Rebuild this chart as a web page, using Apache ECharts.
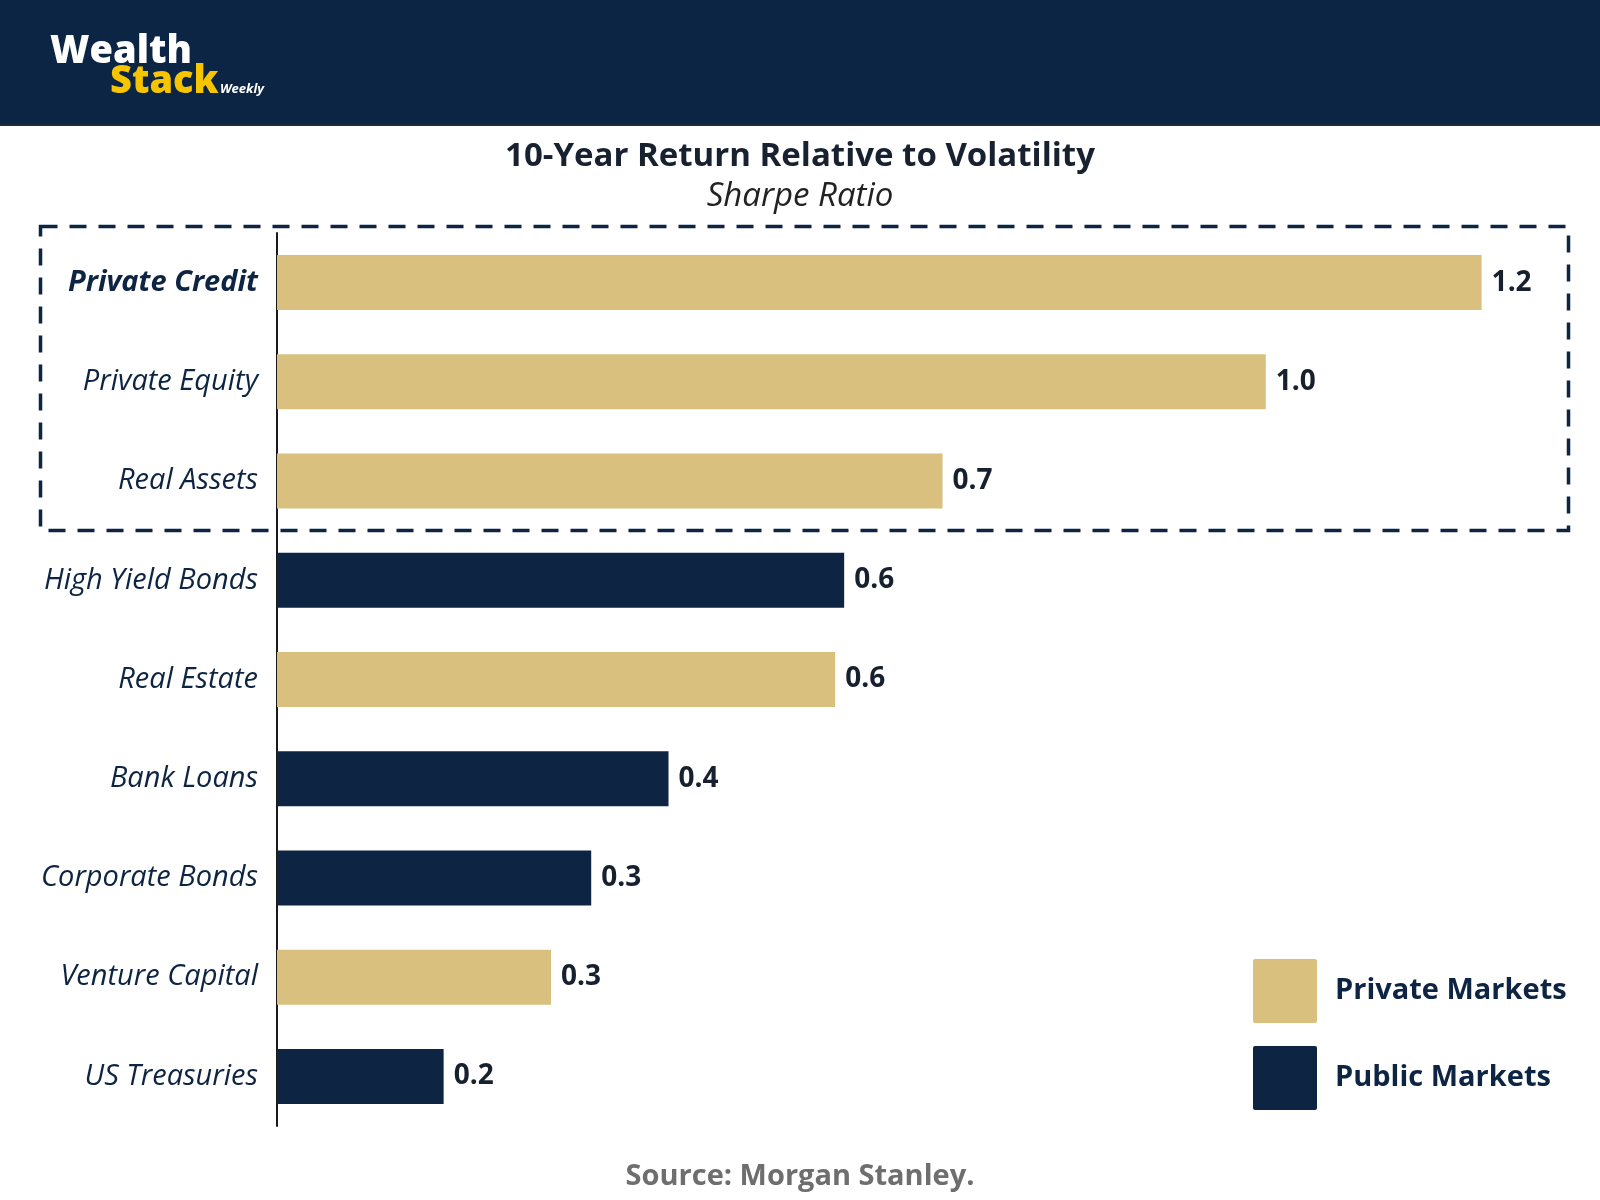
<!DOCTYPE html>
<html>
<head>
<meta charset="utf-8">
<script src="https://cdn.jsdelivr.net/npm/echarts@6/dist/echarts.min.js"></script>
<style>
html,body{margin:0;padding:0;background:#fff;}
#chart{width:1600px;height:1200px;}
</style>
</head>
<body>
<div id="chart"></div>
<script>
const categories = ['Private Credit','Private Equity','Real Assets','High Yield Bonds','Real Estate','Bank Loans','Corporate Bonds','Venture Capital','US Treasuries'];
const sharpeRatio = [1.2, 0.985, 0.663, 0.565, 0.556, 0.39, 0.313, 0.273, 0.166];
const marketType = ['Private','Private','Private','Public','Private','Public','Public','Private','Public'];
const seriesNames = ['Private Markets','Public Markets'];

const NAVY = '#0d2442';
const GOLD = '#d9c07f';
const FONT = 'Open Sans';

const privateData = sharpeRatio.map((v,i)=> marketType[i]==='Private' ? v : '-');
const publicData = sharpeRatio.map((v,i)=> marketType[i]==='Public' ? v : '-');

const chart = echarts.init(document.getElementById('chart'), null, {renderer:'canvas'});

const labelCfg = {
  show: true,
  position: 'right',
  distance: 10,
  formatter: p => Number(p.value).toFixed(1),
  fontFamily: FONT,
  fontSize: 28,
  fontWeight: 'bold',
  color: '#16202e',
  padding: [8,0,0,0]
};

chart.setOption({
  backgroundColor: '#ffffff',
  animation: false,
  textStyle: {fontFamily: FONT},
  title: [
    {text: '10-Year Return Relative to Volatility', left: 'center', top: 135,
     textStyle: {fontFamily: FONT, fontSize: 33, fontWeight: 'bold', color: '#17212f'}},
    {text: 'Sharpe Ratio', left: 'center', top: 175,
     textStyle: {fontFamily: FONT, fontSize: 33, fontWeight: 'normal', fontStyle: 'italic', color: '#222'}},
    {text: 'Source: Morgan Stanley.', left: 'center', top: 1157,
     textStyle: {fontFamily: FONT, fontSize: 29, fontWeight: 'bold', color: '#6e6e6e'}}
  ],
  graphic: [
    {type: 'rect', left: 0, top: 0, z: -1, shape: {width: 1600, height: 125}, style: {fill: '#0c2544'}},
    {type: 'rect', left: 0, top: 124, z: -1, shape: {width: 1600, height: 2}, style: {fill: '#1c2b3d'}},
    {type: 'text', x: 50, y: 52, style: {text: 'Wealth', fill: '#ffffff', fontFamily: FONT, fontSize: 38, fontWeight: 800, verticalAlign: 'middle'}},
    {type: 'text', x: 110, y: 82, style: {text: 'Stack', fill: '#f6c500', fontFamily: FONT, fontSize: 38, fontWeight: 800, verticalAlign: 'middle'}},
    {type: 'text', x: 220, y: 89, style: {text: 'Weekly', fill: '#ffffff', fontFamily: FONT, fontSize: 13, fontWeight: 'bold', fontStyle: 'italic', verticalAlign: 'middle'}},
    {type: 'rect', left: 38, top: 224, z: 10, silent: true,
     shape: {width: 1528, height: 304},
     style: {fill: 'none', stroke: NAVY, lineWidth: 3.5, lineDash: [17, 12]}}
  ],
  legend: {
    data: seriesNames,
    orient: 'vertical',
    left: 1248,
    top: 954,
    itemWidth: 64,
    itemHeight: 64,
    itemGap: 23,
    icon: 'path://M2,0 L62,0 Q64,0 64,2 L64,62 Q64,64 62,64 L2,64 Q0,64 0,62 L0,2 Q0,0 2,0 Z',
    textStyle: {fontFamily: FONT, fontSize: 29, fontWeight: 'bold', color: NAVY, padding: [4,0,0,13]},
    selectedMode: false
  },
  grid: {left: 277, right: 18, top: 233, bottom: 74, containLabel: false},
  xAxis: {
    type: 'value', min: 0, max: 1.3, show: false,
    splitLine: {show: false}
  },
  yAxis: {
    type: 'category',
    data: categories,
    inverse: true,
    axisLine: {show: true, lineStyle: {color: '#1a1a1a', width: 2}},
    axisTick: {show: false},
    axisLabel: {
      margin: 19,
      fontFamily: FONT,
      fontSize: 29,
      fontStyle: 'italic',
      color: NAVY,
      formatter: (v, i) => i === 0 ? '{b|' + v + '}' : v,
      rich: {b: {fontFamily: FONT, fontSize: 29, fontStyle: 'italic', fontWeight: 'bold', color: NAVY}}
    }
  },
  series: [
    {name: seriesNames[0], type: 'bar', data: privateData, barWidth: 55, barGap: '-100%',
     itemStyle: {color: GOLD}, label: labelCfg},
    {name: seriesNames[1], type: 'bar', data: publicData, barWidth: 55, barGap: '-100%',
     itemStyle: {color: NAVY}, label: labelCfg}
  ]
});
</script>
</body>
</html>
